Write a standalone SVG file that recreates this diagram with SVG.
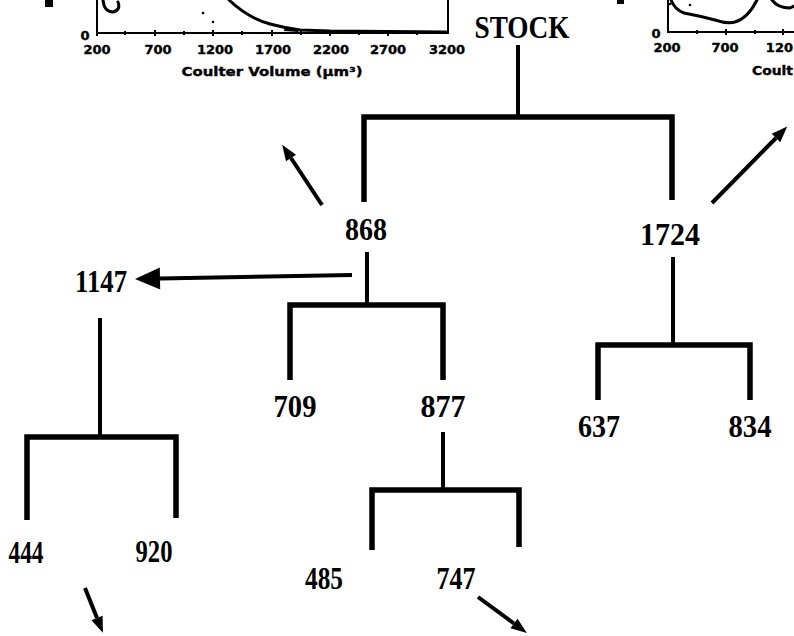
<svg xmlns="http://www.w3.org/2000/svg" width="794" height="636" viewBox="0 0 794 636">
<style>
.n{font-family:"Liberation Serif","Times New Roman",serif;font-weight:bold;font-size:31px;fill:#000;text-anchor:middle}
.t{font-family:"DejaVu Sans","Liberation Sans",sans-serif;font-weight:bold;font-size:13px;fill:#000;text-anchor:middle;stroke:#000;stroke-width:0.4}
.ax{fill:none;stroke:#000;stroke-width:2}
.cv{fill:none;stroke:#000;stroke-width:3;stroke-linecap:round;stroke-linejoin:round}
.stem{fill:none;stroke:#000;stroke-width:4}
.bar{fill:none;stroke:#000;stroke-width:5.5;stroke-linejoin:miter}
.arr{fill:none;stroke:#000;stroke-width:4}
</style>
<defs>
<marker id="ah" markerUnits="userSpaceOnUse" markerWidth="16" markerHeight="12" refX="0" refY="6" orient="auto" overflow="visible">
<path d="M0,0 L16,6 L0,12 z" fill="#000"/>
</marker>
<marker id="ahb" markerUnits="userSpaceOnUse" markerWidth="25" markerHeight="22" refX="0" refY="11" orient="auto" overflow="visible">
<path d="M0,0 L25,11 L0,22 z" fill="#000"/>
</marker>
</defs>
<rect width="794" height="636" fill="#fff"/>

<g id="chart-left">
<rect x="45" y="0" width="8" height="7" fill="#000"/>
<path class="ax" d="M97,0 V33 H448 V0"/>
<path class="ax" d="M97,30 V36 M155,30 V36 M213,30 V36 M272,30 V36 M330,30 V36 M388,30 V36 M125,31 V35 M184,31 V35 M242,31 V35 M301,31 V35 M359,31 V35 M417,31 V35"/>
<path class="cv" d="M103,0 Q104,12 113,12 Q121,10 118,2"/>
<path class="cv" d="M229,0 Q248,18 270,24 Q285,28 300,30 L330,31 L446,32"/>
<path d="M285,27 L300,29 L298,32 L284,31 z" fill="#000"/>
<circle cx="203" cy="13" r="1.3" fill="#000"/>
<circle cx="213" cy="22" r="1.3" fill="#000"/>
<text class="t" x="85" y="40">0</text>
<text class="t" x="97" y="54">200</text>
<text class="t" x="158" y="54">700</text>
<text class="t" x="215" y="54">1200</text>
<text class="t" x="273" y="54">1700</text>
<text class="t" x="331" y="54">2200</text>
<text class="t" x="388" y="54">2700</text>
<text class="t" x="447" y="54">3200</text>
<text class="t" x="272" y="76" textLength="181" lengthAdjust="spacingAndGlyphs">Coulter Volume (μm³)</text>
</g>

<g id="chart-right">
<rect x="617" y="0" width="7" height="4" fill="#000"/>
<path class="ax" d="M668,0 V32 H794"/>
<path class="ax" d="M726,29 V35 M697,30 V34 M755,30 V34 M783,29 V35"/>
<path class="cv" d="M671,0 Q675,10 684,13 Q700,16 715,20 Q727,24 735,22 Q748,18 757,0"/>
<path class="cv" d="M772,0 Q778,8 790,8 L794,6"/>
<circle cx="670" cy="4" r="1.3" fill="#000"/>
<circle cx="690" cy="5" r="1.3" fill="#000"/>
<text class="t" x="656" y="38">0</text>
<text class="t" x="667" y="52">200</text>
<text class="t" x="725" y="52">700</text>
<text class="t" x="793" y="52" style="text-anchor:end">120</text>
<text class="t" x="793" y="75" style="text-anchor:end" textLength="41" lengthAdjust="spacingAndGlyphs">Coult</text>
</g>

<g id="connectors">
<path class="stem" d="M518,45 V117"/>
<path class="bar" d="M364,202 V117 H672 V200"/>
<path class="stem" d="M367,252 V305"/>
<path class="bar" d="M290,380 V305 H443 V380"/>
<path class="stem" d="M673,257 V345"/>
<path class="bar" d="M598,400 V345 H750 V400"/>
<path class="stem" d="M100,318 V437"/>
<path class="bar" d="M27,520 V437 H176 V518"/>
<path class="stem" d="M443,432 V490"/>
<path class="bar" d="M372,550 V490 H519 V547"/>
<line class="arr" x1="322" y1="205" x2="291" y2="158" marker-end="url(#ah)"/>
<line class="arr" x1="712" y1="203" x2="776" y2="138" marker-end="url(#ah)"/>
<line class="arr" x1="352" y1="275" x2="160" y2="278.5" stroke-width="6" marker-end="url(#ahb)"/>
<line class="arr" x1="85" y1="588" x2="97" y2="618" marker-end="url(#ah)"/>
<line class="arr" x1="478" y1="597" x2="514" y2="623.5" marker-end="url(#ah)"/>
</g>

<g id="node-stock"><text class="n" x="522" y="38" font-size="30" textLength="95" lengthAdjust="spacingAndGlyphs">STOCK</text></g>
<g id="node-868"><text class="n" x="366" y="240" textLength="42" lengthAdjust="spacingAndGlyphs">868</text></g>
<g id="node-1724"><text class="n" x="670" y="245" textLength="60" lengthAdjust="spacingAndGlyphs">1724</text></g>
<g id="node-1147"><text class="n" x="101" y="292" textLength="52" lengthAdjust="spacingAndGlyphs">1147</text></g>
<g id="node-709"><text class="n" x="295" y="417" textLength="43" lengthAdjust="spacingAndGlyphs">709</text></g>
<g id="node-877"><text class="n" x="443" y="417" textLength="45" lengthAdjust="spacingAndGlyphs">877</text></g>
<g id="node-637"><text class="n" x="599" y="437" textLength="42" lengthAdjust="spacingAndGlyphs">637</text></g>
<g id="node-834"><text class="n" x="750" y="437" textLength="43" lengthAdjust="spacingAndGlyphs">834</text></g>
<g id="node-444"><text class="n" x="26" y="563" textLength="35" lengthAdjust="spacingAndGlyphs">444</text></g>
<g id="node-920"><text class="n" x="154" y="562" textLength="37" lengthAdjust="spacingAndGlyphs">920</text></g>
<g id="node-485"><text class="n" x="324" y="589" textLength="38" lengthAdjust="spacingAndGlyphs">485</text></g>
<g id="node-747"><text class="n" x="456" y="589" textLength="39" lengthAdjust="spacingAndGlyphs">747</text></g>
</svg>
